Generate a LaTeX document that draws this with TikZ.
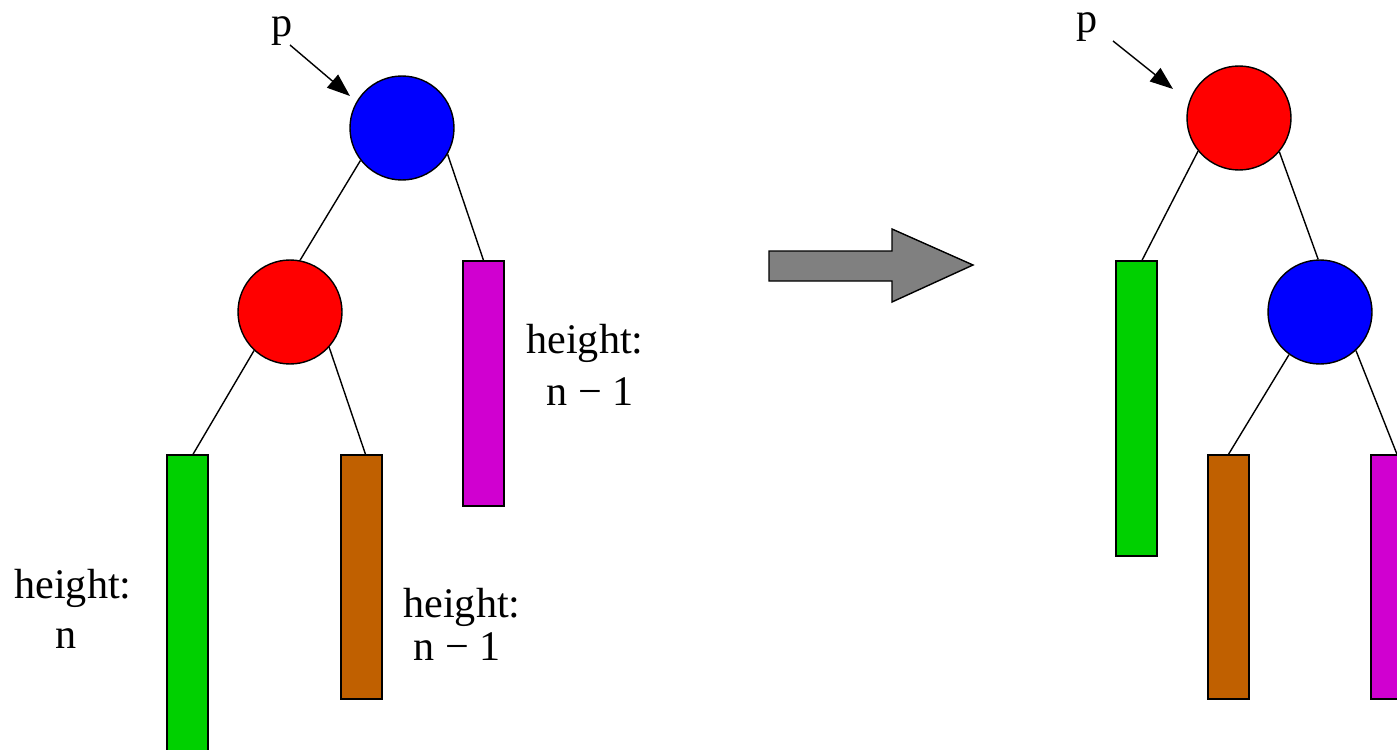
\documentclass[tikz,border=0pt]{standalone}
\usepackage{fontspec}
\setmainfont{Liberation Serif}
\usetikzlibrary{positioning, arrows.meta}
\definecolor{tlgreen}{HTML}{00D000}
\definecolor{tlbrown}{HTML}{C06000}
\definecolor{tlmagenta}{HTML}{D000D0}

\tikzset{
  knot/.style={circle, draw=black, line width=0.8pt, minimum size=2.08cm, inner sep=0pt},
  subtree/.style={rectangle, draw=black, line width=0.8pt, minimum width=0.82cm, inner sep=0pt},
  lbl/.style={font=\fontsize{24}{29}\selectfont, inner sep=0pt, anchor=base},
  edge/.style={line width=0.8pt},
  ptr/.style={line width=0.8pt, -{Triangle[length=0.46cm, width=0.34cm]}}
}

\begin{document}
\begin{tikzpicture}[x=0.02cm, y=-0.02cm]
    \useasboundingbox (0,0) rectangle (1397,750);
    \begin{scope}
    \clip (0,0) rectangle (1397,750);
    % left tree
    \node[knot, fill=blue] (blueL) at (402,128) {};
    \node[knot, fill=red] (redL) at (290,312) {};
    \node[subtree, fill=tlmagenta, minimum height=4.9cm] (magL) at (483.5,383.5) {};
    \node[subtree, fill=tlgreen, minimum height=6.3cm] (greenL) at (187.5,612.5) {};
    \node[subtree, fill=tlbrown, minimum height=4.88cm] (brownL) at (361.5,577) {};
    \draw[edge] (blueL.218) -- (redL.79);
    \draw[edge] (blueL.330) -- (magL.north);
    \draw[edge] (redL.227) -- ([xshift=0.11cm]greenL.north);
    \draw[edge] (redL.318) -- ([xshift=0.08cm]brownL.north);

    \node[lbl] (pL) at (282,37) {p};
    \coordinate (pLtip) at (350,96);
    \draw[ptr] (290,45) -- (pLtip);

    \node[lbl] (hL1) at (73,598) {height:};
    \node[lbl] (hL2) at (66,648) {n};
    \node[lbl] (hM1) at (462,617) {height:};
    \node[lbl] (hM2) at (457,660) {n − 1};
    \node[lbl] (hR1) at (585,353) {height:};
    \node[lbl] (hR2) at (590,405) {n − 1};

    % rotation arrow
    \filldraw[draw=black, fill=gray, line width=0.8pt] (769,251) -- (892,251) -- (892,229) -- (973,265)
      -- (892,302) -- (892,281) -- (769,281) -- cycle;

    % right tree
    \node[knot, fill=red] (redR) at (1239,118) {};
    \node[knot, fill=blue] (blueR) at (1320,312) {};
    \node[subtree, fill=tlgreen, minimum height=5.9cm] (greenR) at (1136.5,408.5) {};
    \node[subtree, fill=tlbrown, minimum height=4.88cm] (brownR) at (1228.5,577) {};
    \node[subtree, fill=tlmagenta, minimum height=4.88cm] (magR) at (1391.5,577) {};
    \draw[edge] (redR.219) -- ([xshift=0.11cm]greenR.north);
    \draw[edge] (redR.320) -- (blueR.92);
    \draw[edge] (blueR.234) -- (brownR.north);
    \draw[edge] (blueR.313) -- ([xshift=0.11cm]magR.north);

    \node[lbl] (pR) at (1087,33) {p};
    \coordinate (pRtip) at (1173,89);
    \draw[ptr] (1113,41) -- (pRtip);
    \end{scope}
\end{tikzpicture}
\end{document}
